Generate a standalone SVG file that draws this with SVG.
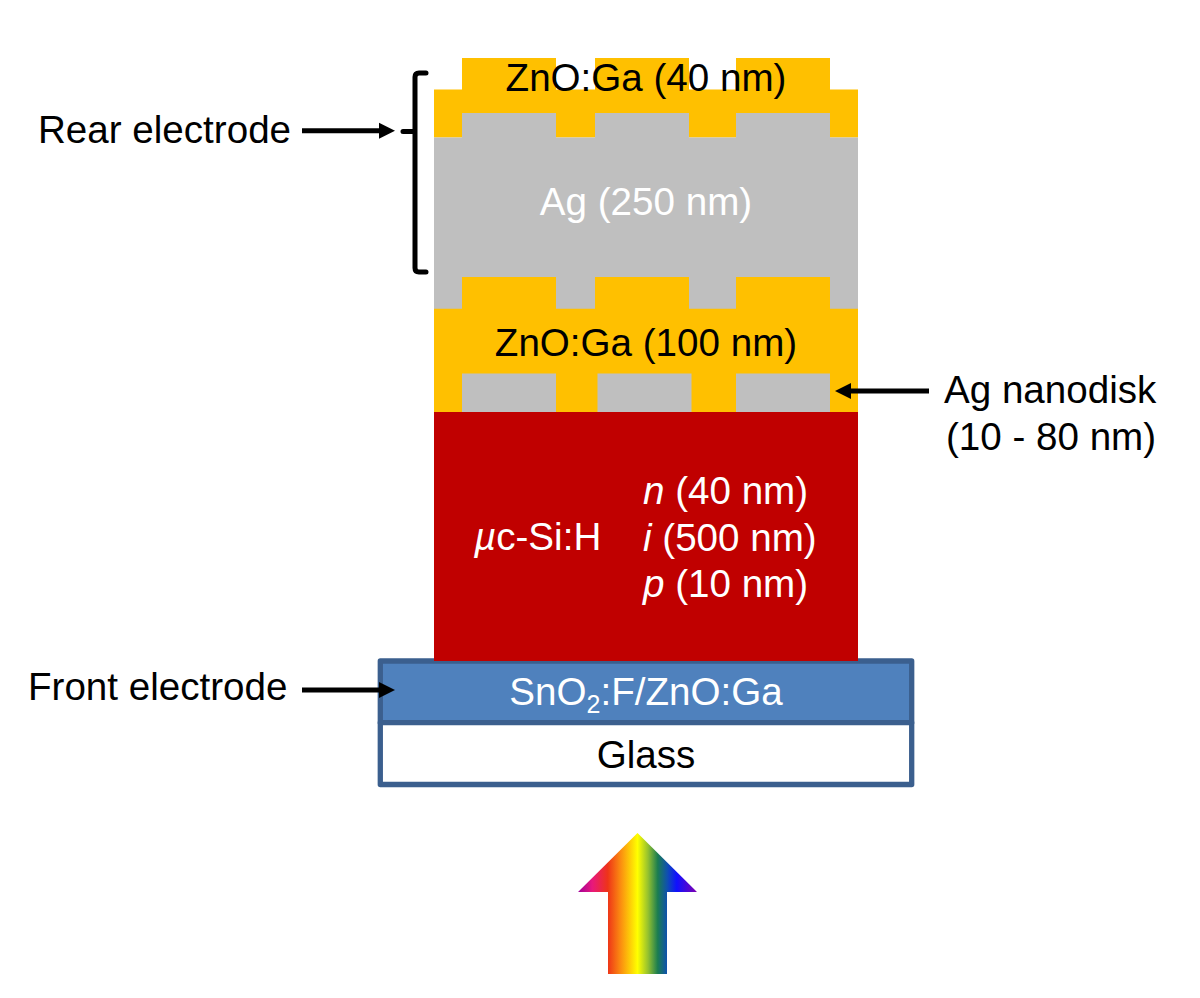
<svg xmlns="http://www.w3.org/2000/svg" width="1200" height="998" viewBox="0 0 1200 998">
<style>
text{font-family:"Liberation Sans",Arial,sans-serif;font-size:38.6px;fill:#000}
.m{text-anchor:middle}
.w{fill:#fff}
.y{fill:#ffc000}
.g{fill:#bfbfbf}
.b{stroke:#3b5f8e;stroke-width:5.3;stroke-linejoin:round}
.c{fill:none;stroke:#000;stroke-width:5}
.br{fill:none;stroke:#000;stroke-width:5;stroke-linecap:round}
</style>
<defs>
<marker id="ah" markerUnits="userSpaceOnUse" markerWidth="18" markerHeight="18" refX="2" refY="9" orient="auto"><path d="M0 1L16 9L0 17Z" fill="#000"/></marker>
<linearGradient id="rainbow" gradientUnits="userSpaceOnUse" x1="578" y1="0" x2="697" y2="0">
<stop offset="0" stop-color="#a0009a"/>
<stop offset="0.12" stop-color="#e8187c"/>
<stop offset="0.25" stop-color="#ee3418"/>
<stop offset="0.36" stop-color="#fb8e10"/>
<stop offset="0.5" stop-color="#ffff00"/>
<stop offset="0.59" stop-color="#93c030"/>
<stop offset="0.67" stop-color="#1b7d50"/>
<stop offset="0.75" stop-color="#0f50b0"/>
<stop offset="0.83" stop-color="#1010ff"/>
<stop offset="1" stop-color="#8000b0"/>
</linearGradient>
</defs>
<g id="rear-zno">
<path class="y" d="M434 89.500H462V58H556V89.500H595V58H689V89.500H736V58H830V89.500H858V137.500H434Z"/>
<text class="m" x="646" y="91">ZnO:Ga (40 nm)</text>
</g>
<g id="rear-ag">
<path class="g" d="M434 137.500H462V113H556V137.500H595V113H689V137.500H736V113H830V137.500H858V309H434Z"/>
<text class="m w" x="646" y="215">Ag (250 nm)</text>
</g>
<g id="mid-zno">
<path class="y" d="M434 308.700H462V277H556V308.700H595V277H689V308.700H736V277H830V308.700H858V412H434Z"/>
<text class="m" x="646" y="356">ZnO:Ga (100 nm)</text>
</g>
<g id="nanodisks">
<rect class="g" x="462" y="373.500" width="94" height="38.500"/>
<rect class="g" x="597.500" y="373.500" width="94" height="38.500"/>
<rect class="g" x="736" y="373.500" width="94" height="38.500"/>
</g>
<g id="front-electrode">
<rect class="b" x="380.300" y="661" width="531.400" height="61.700" fill="#4f81bd"/>
<text class="m w" x="646" y="705">SnO<tspan font-size="25px" dy="8">2</tspan><tspan dy="-8">:F/ZnO:Ga</tspan></text>
</g>
<g id="glass">
<rect class="b" x="380.300" y="722.700" width="531.400" height="61.800" fill="#fff"/>
<text class="m" x="646" y="768">Glass</text>
</g>
<g id="silicon">
<rect x="434" y="412" width="424" height="249" fill="#c00000"/>
<text class="w" x="474" y="550"><tspan font-style="italic">µ</tspan>c-Si:H</text>
<text class="w" x="643" y="504"><tspan font-style="italic">n</tspan> (40 nm)</text>
<text class="w" x="643" y="551"><tspan font-style="italic">i</tspan> (500 nm)</text>
<text class="w" x="643" y="597"><tspan font-style="italic">p</tspan> (10 nm)</text>
</g>
<g id="light-arrow">
<path fill="url(#rainbow)" d="M637.500 833L697 892H667V974H608V892H578Z"/>
</g>
<g id="labels">
<text x="38" y="143">Rear electrode</text>
<text x="28" y="700">Front electrode</text>
<text x="944" y="403">Ag nanodisk</text>
<text x="946" y="450">(10 - 80 nm)</text>
</g>
<g id="connectors">
<path class="br" d="M426 73H419Q415 73 415 77V268Q415 272 419 272H426M403 131.500H415"/>
<path class="c" marker-end="url(#ah)" d="M302 130.700H381"/>
<path class="c" marker-end="url(#ah)" d="M302 690H381"/>
<path class="c" marker-end="url(#ah)" d="M929 391H849"/>
</g>
</svg>
